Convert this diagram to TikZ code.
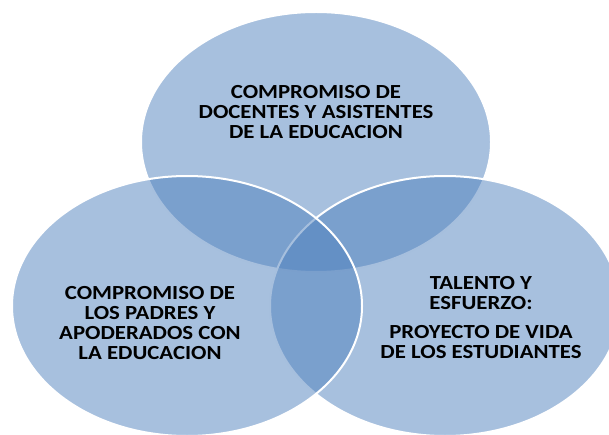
\documentclass[tikz,border=0pt]{standalone}
\usepackage{fontspec}
\usepackage{graphicx}
\setmainfont{Carlito}
\usetikzlibrary{shapes.geometric}
\definecolor{acc}{RGB}{79,129,189}
\newcommand{\widetext}[1]{\scalebox{1.14}[1]{\begin{tabular}{@{}c@{}}#1\end{tabular}}}
\begin{document}
\begin{tikzpicture}[x=1pt,y=-1pt,
  venn/.style={ellipse, fill=acc, fill opacity=0.5, draw=white, draw opacity=1, line width=2pt,
    minimum width=350pt, minimum height=260pt, inner sep=0pt},
  lbl/.style={align=center, font=\fontsize{20}{20}\selectfont\bfseries, text=black, inner sep=0pt}]
\useasboundingbox (0,0) rectangle (609,435);
\begin{scope}
\clip (0,0) rectangle (609,435);
\node[venn] (top) at (316,142) {};
\node[venn] (right) at (445,306) {};
\node[venn] (left) at (187,306) {};
\end{scope}
\node[lbl] (ttop) at (316,115) {\widetext{COMPROMISO DE\\DOCENTES Y ASISTENTES\\DE LA EDUCACION}};
\node[lbl] (tleft) at (150,325) {\widetext{COMPROMISO DE\\LOS PADRES Y\\APODERADOS CON\\LA EDUCACION}};
\node[lbl] (tright) at (481,320) {\widetext{TALENTO Y\\ESFUERZO:\\[9pt]PROYECTO DE VIDA\\DE LOS ESTUDIANTES}};
\end{tikzpicture}
\end{document}
